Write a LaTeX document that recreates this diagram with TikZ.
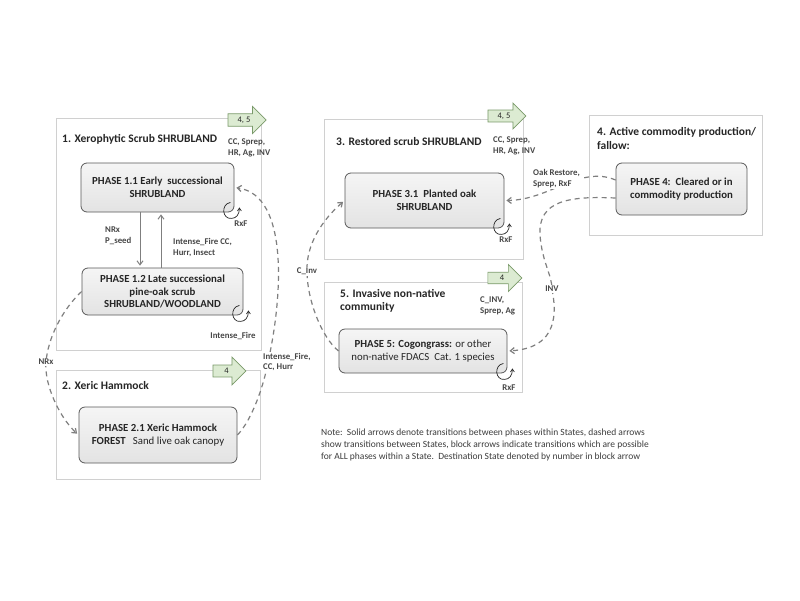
\documentclass[tikz,border=0pt]{standalone}
\usepackage{fontspec}
\setmainfont{Carlito}
\usetikzlibrary{shapes.arrows,arrows.meta,calc}
\definecolor{statebd}{HTML}{D0D0D0}
\definecolor{phasebd}{HTML}{595959}
\definecolor{phasetop}{HTML}{F5F5F5}
\definecolor{phasebot}{HTML}{E3E3E3}
\definecolor{arrfill}{HTML}{DCEBD2}
\definecolor{arrbd}{HTML}{7A9A6A}
\definecolor{conn}{HTML}{7F7F7F}
\definecolor{txt}{HTML}{262626}
\begin{document}
\begin{tikzpicture}[x=1pt,y=-1pt,
 statebox/.style={draw=statebd, line width=0.9pt, fill=white, inner sep=0pt},
 phasebox/.style={draw=phasebd, line width=0.8pt, top color=phasetop, bottom color=phasebot, rounded corners=6pt, align=center, font=\fontsize{10.8}{12.8}\selectfont\bfseries, text=txt, inner sep=2pt},
 statetitle/.style={font=\fontsize{11.5}{13.5}\selectfont\bfseries, text=txt, anchor=west, align=left, inner sep=0pt},
 lbl/.style={font=\fontsize{8.8}{10.8}\selectfont\bfseries, text=txt!85, align=left, inner sep=1pt},
 wlbl/.style={lbl, fill=white},
 blockarr/.style={single arrow, draw=arrbd, fill=arrfill, line width=0.7pt, single arrow head extend=5.5pt, inner sep=1pt, font=\fontsize{8.5}{9}\selectfont, text=txt},
 solidarr/.style={draw=conn, line width=1pt, shorten >=2pt, -{Straight Barb[length=4pt,width=6pt]}},
 dasharr/.style={draw=conn, line width=1.2pt, dash pattern=on 5pt off 4pt, shorten >=2pt, -{Straight Barb[length=4pt,width=6pt]}},
 loopy/.style={draw=txt, line width=0.7pt, -{Straight Barb[length=3pt,width=4pt]}},
 rxfloop/.pic={\draw[loopy] (-4,-10) .. controls (-14,-8) and (-12,7) .. (-3,6) .. controls (2,6) and (5,2) .. (5,-5);}
]
\fill[white] (0,0) rectangle (800,600);
\useasboundingbox (0,0) rectangle (800,600);

% state boxes
\node[statebox, minimum width=205pt, minimum height=232pt] (s1) at (158.5,234) {};
\node[statebox, minimum width=204pt, minimum height=109pt] (s2) at (158,424.5) {};
\node[statebox, minimum width=199pt, minimum height=140pt] (s3) at (423.5,189) {};
\node[statebox, minimum width=173pt, minimum height=120pt] (s4) at (675.5,175) {};
\node[statebox, minimum width=198pt, minimum height=110pt] (s5) at (423,337) {};

% titles
\node[statetitle] (t1) at (62,139) {1. Xerophytic Scrub SHRUBLAND};
\node[statetitle] (t2) at (62,386) {2. Xeric Hammock};
\node[statetitle] (t3) at (336,142) {3. Restored scrub SHRUBLAND};
\node[statetitle] (t4) at (597,138.5) {4. Active commodity production/\\fallow:};
\node[statetitle] (t5) at (340,301) {5. Invasive non-native\\community};

% phase boxes
\node[phasebox, minimum width=153pt, minimum height=49pt] (p11) at (157.5,187.5) {PHASE 1.1 Early\ \ successional\\SHRUBLAND};
\node[phasebox, minimum width=161pt, minimum height=47pt] (p12) at (162.5,291.5) {PHASE 1.2 Late successional\\pine-oak scrub\\SHRUBLAND/WOODLAND};
\node[phasebox, minimum width=158pt, minimum height=56pt] (p21) at (158,435) {PHASE 2.1 Xeric Hammock\\FOREST\ \ \ {\mdseries Sand live oak canopy}};
\node[phasebox, minimum width=159pt, minimum height=55pt] (p31) at (424.5,200.5) {PHASE 3.1\ \ Planted oak\\SHRUBLAND};
\node[phasebox, minimum width=131pt, minimum height=52pt] (p4) at (681.5,189) {PHASE 4:\ \ Cleared or in\\commodity production};
\node[phasebox, minimum width=168pt, minimum height=44pt] (p5) at (423,351) {PHASE 5: Cogongrass: {\mdseries or other}\\{\mdseries non-native FDACS\ \ Cat. 1 species}};

% block arrows
\node[blockarr, minimum height=38pt, minimum width=27pt] (a1) at (244,120) {4, 5};
\node[blockarr, minimum height=33pt, minimum width=28pt] (a2) at (226.5,371) {4};
\node[blockarr, minimum height=38pt, minimum width=26pt] (a3) at (504,116) {4, 5};
\node[blockarr, minimum height=34pt, minimum width=27pt] (a5) at (502,278) {4};

% block arrow labels
\node[lbl, anchor=west] (l1) at (227,147.5) {CC, Sprep,\\HR, Ag, INV};
\node[lbl, anchor=west] (l3) at (492,146) {CC, Sprep,\\HR, Ag, INV};
\node[lbl, anchor=west] (l5) at (479,306) {C\_INV,\\Sprep, Ag};

% self loops
\pic at (p11.south east) {rxfloop};
\pic at (p12.south east) {rxfloop};
\pic at (p31.south east) {rxfloop};
\pic at (p5.south east) {rxfloop};
\node[lbl] (r11) at (241,224) {RxF};
\node[lbl] (r12) at (233,336) {Intense\_Fire};
\node[lbl] (r31) at (506,240) {RxF};
\node[lbl] (r5) at (509,388) {RxF};

% solid arrows within state 1
\draw[solidarr] ([xshift=-17.5pt]p11.south) -- ([xshift=-17.5pt]p11.south |- p12.north);
\draw[solidarr] ([xshift=3.5pt]p11.south |- p12.north) -- ([xshift=3.5pt]p11.south);
\node[lbl, anchor=west] (ln1) at (104,236) {NRx\\P\_seed};
\node[lbl, anchor=west] (ln2) at (172,247.5) {Intense\_Fire CC,\\Hurr, Insect};

% dashed connectors
\coordinate (wnrx) at (46,362);
\draw[dasharr] (p12.west) .. controls (62,310) and (48,338) .. (wnrx) .. controls (44,385) and (60,418) .. (p21.west);
\coordinate (wif) at (268,362);
\draw[dasharr] (p21.east) .. controls (252,420) and (264,385) .. (wif) .. controls (282,300) and (290,195) .. (p11.east);
\coordinate (wci) at (307,271);
\draw[dasharr] (p5.west) .. controls (322,338) and (307,300) .. (wci) .. controls (306,245) and (322,220) .. (p31.west);
\draw[dasharr] ([yshift=9pt]p4.west) .. controls (580,165) and (550,200) .. (p31.east);
\coordinate (winv) at (552,289);
\draw[dasharr] ([yshift=-9pt]p4.west) .. controls (570,196) and (538,200) .. (540,235) .. controls (542,262) and (552,275) .. (winv) .. controls (556,310) and (560,348) .. (p5.east);

% labels on dashed connectors
\node[wlbl] (lnrx) at (wnrx) {NRx};
\node[wlbl, anchor=west] (lif) at ([xshift=-6pt]wif) {Intense\_Fire,\\CC, Hurr};
\node[wlbl] (lci) at (wci) {C\_Inv};
\node[wlbl, anchor=west] (loak) at (532,179) {Oak Restore,\\Sprep, RxF};
\node[wlbl] (linv) at (winv) {INV};

% note
\node[anchor=west, align=left, inner sep=0pt, text=txt!90, font=\fontsize{9.5}{12}\selectfont] (note) at (321,445) {Note:\ \ Solid arrows denote transitions between phases within States, dashed arrows\\show transitions between States, block arrows indicate transitions which are possible\\for ALL phases within a State.\ \ Destination State denoted by number in block arrow};
\end{tikzpicture}
\end{document}
